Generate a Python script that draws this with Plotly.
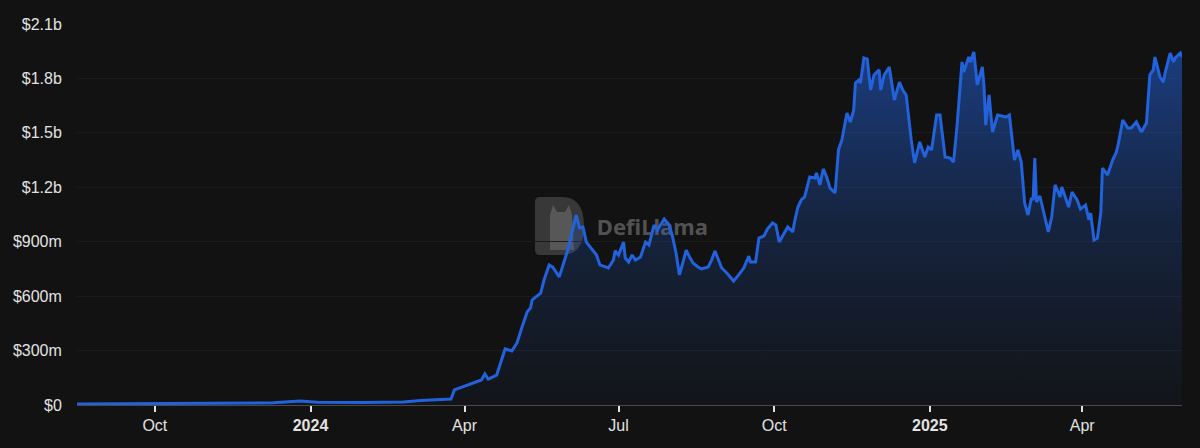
import plotly.graph_objects as go

# TVL readings (date, USD millions)
dates = [
    "2023-08-16", "2023-09-15", "2023-10-15", "2023-11-15", "2023-12-10",
    "2023-12-26", "2024-01-05", "2024-02-01", "2024-02-25", "2024-03-06",
    "2024-03-16", "2024-03-24", "2024-03-26", "2024-04-05", "2024-04-11",
    "2024-04-13", "2024-04-15", "2024-04-20", "2024-04-23", "2024-04-25",
    "2024-04-29", "2024-05-02", "2024-05-05", "2024-05-08", "2024-05-10",
    "2024-05-11", "2024-05-13", "2024-05-16", "2024-05-18", "2024-05-21",
    "2024-05-23", "2024-05-27", "2024-06-01", "2024-06-04", "2024-06-06",
    "2024-06-08", "2024-06-10", "2024-06-12", "2024-06-15", "2024-06-18",
    "2024-06-20", "2024-06-25", "2024-06-28", "2024-06-29", "2024-07-01",
    "2024-07-04", "2024-07-05", "2024-07-07", "2024-07-09", "2024-07-11",
    "2024-07-14", "2024-07-17", "2024-07-19", "2024-07-22", "2024-07-24",
    "2024-07-28", "2024-07-31", "2024-08-02", "2024-08-04", "2024-08-06",
    "2024-08-08", "2024-08-10", "2024-08-12", "2024-08-14", "2024-08-17",
    "2024-08-19", "2024-08-23", "2024-08-25", "2024-08-27", "2024-08-29",
    "2024-08-31", "2024-09-03", "2024-09-04", "2024-09-07", "2024-09-10",
    "2024-09-13", "2024-09-16", "2024-09-17", "2024-09-20", "2024-09-22",
    "2024-09-25", "2024-09-27", "2024-09-30", "2024-10-02", "2024-10-04",
    "2024-10-07", "2024-10-09", "2024-10-12", "2024-10-13", "2024-10-15",
    "2024-10-17", "2024-10-19", "2024-10-22", "2024-10-25", "2024-10-26",
    "2024-10-28", "2024-10-30", "2024-11-01", "2024-11-03", "2024-11-06",
    "2024-11-08", "2024-11-10", "2024-11-13", "2024-11-15", "2024-11-17",
    "2024-11-18", "2024-11-20", "2024-11-21", "2024-11-23", "2024-11-25",
    "2024-11-27", "2024-11-29", "2024-12-02", "2024-12-03", "2024-12-05",
    "2024-12-08", "2024-12-11", "2024-12-14", "2024-12-16", "2024-12-18",
    "2024-12-21", "2024-12-23", "2024-12-26", "2024-12-29", "2024-12-31",
    "2025-01-02", "2025-01-05", "2025-01-07", "2025-01-10", "2025-01-13",
    "2025-01-15", "2025-01-17", "2025-01-20", "2025-01-21", "2025-01-24",
    "2025-01-25", "2025-01-27", "2025-01-29", "2025-02-01", "2025-02-02",
    "2025-02-03", "2025-02-05", "2025-02-07", "2025-02-10", "2025-02-15",
    "2025-02-17", "2025-02-20", "2025-02-22", "2025-02-24", "2025-02-26",
    "2025-02-28", "2025-03-02", "2025-03-03", "2025-03-04", "2025-03-05",
    "2025-03-07", "2025-03-08", "2025-03-12", "2025-03-14", "2025-03-16",
    "2025-03-19", "2025-03-20", "2025-03-24", "2025-03-26", "2025-03-29",
    "2025-03-31", "2025-04-03", "2025-04-05", "2025-04-06", "2025-04-08",
    "2025-04-10", "2025-04-12", "2025-04-13", "2025-04-16", "2025-04-19",
    "2025-04-21", "2025-04-22", "2025-04-25", "2025-04-28", "2025-04-30",
    "2025-05-03", "2025-05-06", "2025-05-09", "2025-05-11", "2025-05-13",
    "2025-05-14", "2025-05-17", "2025-05-19", "2025-05-20", "2025-05-23",
    "2025-05-25", "2025-05-26", "2025-05-29", "2025-05-30",
]
tvl_m = [
    5, 6, 7, 9, 12,
    22, 15, 14, 16, 25,
    28, 33, 83, 116, 138,
    171, 143, 165, 248, 309,
    298, 342, 430, 513, 535,
    579, 595, 617, 689, 772,
    761, 706, 854, 965, 1047,
    976, 981, 898, 865, 827,
    772, 755, 799, 850, 827,
    898, 810, 788, 827, 799,
    816, 898, 882, 992, 965,
    1025, 992, 926, 838, 717,
    783, 854, 816, 783, 761,
    750, 761, 799, 849, 799,
    755, 728, 717, 683, 717,
    755, 821, 788, 788, 920,
    932, 970, 1003, 992, 898,
    948, 981, 954, 1009, 1090,
    1130, 1147, 1257, 1251, 1279,
    1213, 1301, 1257, 1196, 1169,
    1406, 1461, 1609, 1560, 1626,
    1775, 1791, 1775, 1913, 1907,
    1736, 1819, 1847, 1736, 1819,
    1863, 1681, 1780, 1736, 1709,
    1461, 1334, 1450, 1367, 1422,
    1406, 1598, 1598, 1367, 1361,
    1339, 1532, 1891, 1836, 1918,
    1891, 1946, 1764, 1863, 1753,
    1543, 1709, 1505, 1598, 1587,
    1598, 1350, 1406, 1339, 1113,
    1047, 1141, 1130, 1361, 1119,
    1152, 1113, 954, 1036, 1213,
    1147, 1202, 1091, 1174, 1130,
    1080, 1102, 1020, 1058, 909,
    920, 1058, 1306, 1268, 1350,
    1389, 1422, 1571, 1527, 1527,
    1560, 1505, 1554, 1819, 1847,
    1918, 1808, 1780, 1830, 1940,
    1891, 1913, 1940, 1918,
]

tick_dates = ["2023-10-01", "2024-01-01", "2024-04-01", "2024-07-01",
              "2024-10-01", "2025-01-01", "2025-04-01"]
tick_text = ["Oct", "<b>2024</b>", "Apr", "Jul", "Oct", "<b>2025</b>", "Apr"]
y_ticks = [0, 300e6, 600e6, 900e6, 1.2e9, 1.5e9, 1.8e9, 2.1e9]
y_text = ["$0", "$300m", "$600m", "$900m", "$1.2b", "$1.5b", "$1.8b", "$2.1b"]

BG = "#121212"
BLUE = "#2262dc"
FONT = "Liberation Sans, Arial, sans-serif"

tvl = [v * 1e6 for v in tvl_m]

fig = go.Figure()

# watermark text, drawn first so the series sits on top of it
fig.add_trace(go.Scatter(
    x=["2024-07-21"], y=[970e6], mode="text", text=["<b>DefiLlama</b>"],
    textfont=dict(family="Noto Sans, sans-serif", size=22, color="#525252"),
    hoverinfo="skip", showlegend=False,
))

fig.add_trace(go.Scatter(
    x=dates, y=tvl, mode="lines",
    line=dict(color=BLUE, width=3),
    fill="tozeroy",
    fillgradient=dict(
        type="vertical", start=0, stop=2.0e9,
        colorscale=[[0, "rgba(34,98,220,0.03)"], [0.5, "rgba(34,98,220,0.22)"],
                    [1, "rgba(34,98,220,0.55)"]],
    ),
    showlegend=False,
))

# llama logo block behind the series (paper coordinates)
def px(xp):
    return (xp - 77) / (1182 - 77)


def py(yp):
    return (405 - yp) / (405 - 24)


logo = (
    f"M {px(540)},{py(197)} L {px(562)},{py(197)} "
    f"Q {px(584)},{py(197)} {px(584)},{py(226)} "
    f"Q {px(584)},{py(255)} {px(562)},{py(255)} "
    f"L {px(540)},{py(255)} Q {px(535)},{py(255)} {px(535)},{py(250)} "
    f"L {px(535)},{py(202)} Q {px(535)},{py(197)} {px(540)},{py(197)} Z"
)
fig.add_shape(type="path", path=logo, xref="paper", yref="paper",
              fillcolor="#383838", line=dict(width=0), layer="below")
fig.add_shape(type="path", xref="paper", yref="paper", layer="below",
              path=(f"M {px(550)},{py(250)} L {px(550)},{py(215)} "
                    f"L {px(553)},{py(205)} L {px(557)},{py(212)} L {px(565)},{py(212)} "
                    f"L {px(569)},{py(205)} L {px(572)},{py(215)} L {px(574)},{py(250)} Z"),
              fillcolor="#575757", line=dict(width=0))

fig.update_layout(
    width=1200, height=448,
    paper_bgcolor=BG, plot_bgcolor=BG,
    margin=dict(l=77, r=18, t=24, b=43),
    font=dict(family=FONT, size=16, color="#e2e2e2"),
    showlegend=False,
    xaxis=dict(
        range=[dates[0], dates[-1]],
        tickvals=tick_dates, ticktext=tick_text,
        ticks="outside", ticklen=6, tickwidth=1.5, tickcolor="#e0e0e0",
        showgrid=False, zeroline=False,
        showline=True, linecolor="#4a4a4a", linewidth=1,
    ),
    yaxis=dict(
        range=[0, 2.1e9],
        tickvals=y_ticks, ticktext=y_text,
        ticks="outside", ticklen=11, tickcolor="rgba(0,0,0,0)",
        showgrid=True, gridcolor="#1c1c1c", gridwidth=1,
        zeroline=False, showline=False,
    ),
)

# drop the browser's default page margin so the chart sits at the window edge
fig.write_html("out.html", config={"displayModeBar": False},
               post_script="document.body.style.margin='0';"
                           "document.body.style.background='#121212';")
